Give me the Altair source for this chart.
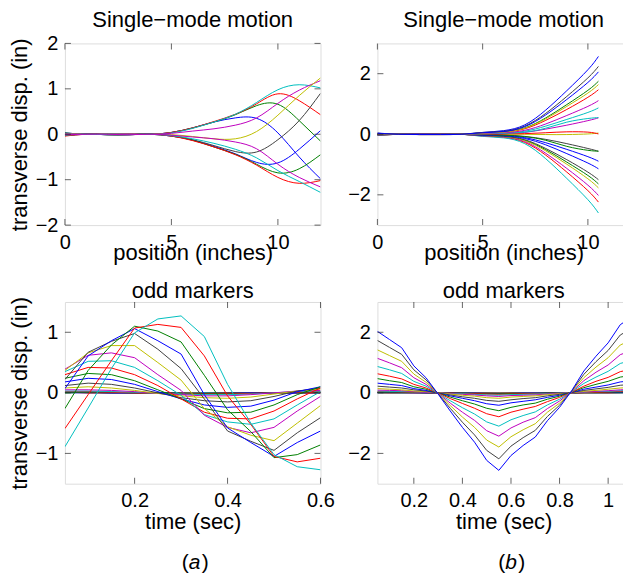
import altair as alt
import pandas as pd

FONT = "Liberation Sans"
COLORS = ["#0000ff", "#008000", "#ff0000", "#00bfbf", "#bf00bf", "#bfbf00", "#404040"]

# ---------- (a) top: Single-mode motion, position (inches) ----------
TL_X = [0, 1, 2, 3, 4, 5, 6, 7, 8, 9, 10, 11, 12]
TL_Y = [
    [0.03, 0, 0.01, 0.01, 0, 0.04, 0.14, 0.27, 0.36, 0.35, 0.03, -0.5, -0.98],
    [0.03, 0, 0.01, 0.01, 0, 0.04, 0.14, 0.27, 0.43, 0.63, 0.66, 0.3, -0.15],
    [0.02, 0, 0.01, 0.01, 0, 0.04, 0.14, 0.28, 0.44, 0.67, 0.89, 0.74, 0.43],
    [0.02, 0, 0.01, 0.01, 0, 0.03, 0.13, 0.27, 0.44, 0.7, 0.98, 1.09, 1.02],
    [0.01, 0, 0, 0.01, 0, 0.02, 0.07, 0.12, 0.2, 0.36, 0.68, 0.97, 1.18],
    [0, 0, 0, 0, 0, -0.01, -0.05, -0.1, -0.1, 0.06, 0.42, 0.85, 1.24],
    [-0.02, 0, -0.01, -0.01, 0, -0.03, -0.12, -0.25, -0.38, -0.39, -0.12, 0.3, 0.9],
    [-0.03, 0, -0.01, -0.01, 0, -0.04, -0.13, -0.27, -0.43, -0.62, -0.63, -0.33, 0.08],
    [-0.03, 0, -0.01, -0.01, 0, -0.04, -0.13, -0.28, -0.44, -0.66, -0.85, -0.76, -0.45],
    [-0.04, 0, -0.01, -0.01, 0, -0.04, -0.14, -0.28, -0.45, -0.68, -0.95, -1.08, -1.02],
    [-0.02, 0, -0.01, -0.01, 0, -0.03, -0.1, -0.2, -0.33, -0.52, -0.8, -1.04, -1.28],
    [-0.01, 0, 0, -0.01, 0, -0.02, -0.06, -0.1, -0.17, -0.32, -0.66, -0.95, -1.16],
]

# ---------- (b) top: Single-mode motion ----------
TR_X = [0, 1, 2, 3, 4, 5, 6, 7, 8, 9, 10, 10.5]
TR_Y = [
    [0.04, 0, -0.01, -0.01, 0, 0.06, 0.12, 0.31, 0.80, 1.44, 2.13, 2.57],
    [0.03, 0, -0.01, -0.01, 0, 0.04, 0.08, 0.21, 0.54, 0.98, 1.45, 1.75],
    [0.02, 0, -0.01, -0.01, 0, 0.04, 0.07, 0.18, 0.46, 0.82, 1.22, 1.47],
    [0.01, 0, 0, 0, 0, 0.02, 0.04, 0.10, 0.27, 0.49, 0.72, 0.87],
    [0.01, 0, 0, 0, 0, 0.01, 0.02, 0.06, 0.17, 0.30, 0.45, 0.54],
    [0, 0, 0, 0, 0, 0, 0, 0, -0.01, -0.01, 0.01, 0.04],
    [-0.01, 0, 0, 0, 0, -0.01, -0.03, -0.07, -0.17, -0.31, -0.47, -0.56],
    [-0.01, 0, 0, 0, 0, -0.02, -0.04, -0.11, -0.28, -0.50, -0.74, -0.89],
    [-0.02, 0, 0.01, 0.01, 0, -0.04, -0.07, -0.20, -0.51, -0.92, -1.36, -1.64],
    [-0.03, 0, 0.01, 0.01, 0, -0.06, -0.10, -0.27, -0.69, -1.25, -1.86, -2.24],
    [-0.04, 0, 0.01, 0.01, 0, -0.07, -0.12, -0.31, -0.81, -1.46, -2.16, -2.60],
    [-0.03, 0, 0.01, 0.01, 0, -0.05, -0.09, -0.24, -0.63, -1.13, -1.68, -2.02],
    [-0.03, 0, 0.01, 0.01, 0, -0.04, -0.08, -0.21, -0.55, -0.99, -1.47, -1.77],
    [-0.02, 0, 0.01, 0.01, 0, -0.04, -0.07, -0.18, -0.47, -0.84, -1.25, -1.50],
    [-0.02, 0, 0.01, 0, 0, -0.03, -0.05, -0.14, -0.35, -0.64, -0.95, -1.14],
    [-0.01, 0, 0, 0, 0, -0.01, -0.03, -0.08, -0.20, -0.40, -0.53, -0.56],
    [0, 0, 0, 0, 0, 0, 0.01, 0.02, 0.05, 0.08, 0.07, 0.01],
    [0.01, 0, 0, 0, 0, 0.01, 0.03, 0.07, 0.20, 0.40, 0.52, 0.55],
    [0.02, 0, 0, 0, 0, 0.03, 0.05, 0.13, 0.34, 0.62, 0.92, 1.11],
    [0.02, 0, -0.01, -0.01, 0, 0.04, 0.07, 0.20, 0.51, 0.92, 1.36, 1.64],
    [0.03, 0, -0.01, -0.01, 0, 0.06, 0.10, 0.27, 0.69, 1.25, 1.86, 2.24],
    [0.03, 0, -0.01, -0.01, 0, 0.05, 0.09, 0.25, 0.64, 1.15, 1.71, 2.06],
]

# ---------- (a) bottom: odd markers, time (sec) ----------
BL_T = [0.05, 0.1, 0.15, 0.2, 0.25, 0.3, 0.35, 0.4, 0.45, 0.5, 0.55, 0.6]
BL_Y = [
    [0.0, 0.0, 0.0, 0.0, 0.0, 0.0, 0.0, 0.0, 0.0, 0.0, 0.0, 0.0],
    [0.0, 0.01, 0.0, 0.0, 0.0, 0.0, 0.0, -0.01, 0.0, 0.0, 0.0, 0.0],
    [0.01, 0.0, 0.0, 0.0, 0.0, 0.0, -0.01, 0.0, 0.0, 0.0, 0.0, 0.0],
    [0.0, 0.01, 0.0, 0.0, 0.0, 0.0, 0.0, -0.01, 0.0, 0.0, 0.0, 0.01],
    [0.01, 0.01, 0.0, 0.0, 0.0, 0.0, -0.01, -0.01, 0.0, 0.0, 0.0, 0.0],
    [0.0, 0.01, 0.01, 0.0, 0.0, 0.0, -0.01, -0.01, 0.0, 0.0, 0.0, 0.01],
    [0.01, 0.0, 0.0, 0.0, 0.0, 0.0, -0.01, 0.0, 0.0, 0.0, 0.0, 0.0],
    [0.01, 0.01, 0.0, 0.0, 0.0, -0.01, -0.01, -0.01, 0.0, 0.0, 0.0, 0.01],
    [0.01, 0.01, 0.01, 0.0, 0.0, -0.01, -0.01, -0.01, -0.01, 0.0, 0.01, 0.01],
    [0.02, 0.02, 0.01, 0.0, -0.01, -0.02, -0.02, -0.02, -0.01, 0.0, 0.01, 0.02],
    [0.03, 0.03, 0.02, 0.01, -0.01, -0.02, -0.03, -0.03, -0.02, 0.0, 0.02, 0.03],
    [0.05, 0.05, 0.04, 0.02, -0.01, -0.03, -0.05, -0.05, -0.03, 0.0, 0.03, 0.04],
    [0.08, 0.10, 0.08, 0.04, -0.01, -0.05, -0.08, -0.09, -0.07, -0.02, 0.03, 0.06],
    [0.12, 0.16, 0.14, 0.08, 0.0, -0.08, -0.13, -0.15, -0.13, -0.06, 0.03, 0.08],
    [0.18, 0.24, 0.22, 0.14, 0.02, -0.10, -0.20, -0.24, -0.22, -0.12, 0.02, 0.10],
    [0.24, 0.32, 0.30, 0.20, 0.05, -0.10, -0.26, -0.33, -0.32, -0.20, -0.03, 0.10],
    [0.30, 0.42, 0.41, 0.30, 0.12, -0.10, -0.32, -0.42, -0.43, -0.30, -0.10, 0.08],
    [0.35, 0.52, 0.53, 0.42, 0.20, -0.04, -0.36, -0.48, -0.52, -0.43, -0.20, 0.02],
    [0.39, 0.62, 0.66, 0.58, 0.30, 0.04, -0.37, -0.57, -0.66, -0.57, -0.30, -0.06],
    [0.37, 0.66, 0.78, 0.78, 0.50, 0.21, -0.26, -0.56, -0.70, -0.79, -0.50, -0.21],
    [0.22, 0.67, 0.85, 0.98, 0.72, 0.40, -0.10, -0.63, -0.80, -0.95, -0.66, -0.41],
    [0.07, 0.61, 0.86, 1.06, 0.86, 0.64, -0.03, -0.58, -0.82, -1.05, -0.82, -0.63],
    [-0.26, 0.37, 0.79, 1.10, 1.02, 0.84, 0.29, -0.28, -0.64, -1.07, -1.02, -0.86],
    [-0.59, -0.03, 0.53, 1.07, 1.13, 1.08, 0.61, -0.05, -0.52, -1.05, -1.14, -1.08],
    [-0.89, -0.25, 0.40, 0.99, 1.22, 1.27, 0.93, 0.14, -0.50, -1.02, -1.22, -1.27],
]

# ---------- (b) bottom: odd markers ----------
BR_T = [0.05, 0.1, 0.15, 0.2, 0.25, 0.3, 0.35, 0.4, 0.45, 0.5, 0.55,
        0.6, 0.65, 0.7, 0.75, 0.8, 0.85, 0.9, 0.95, 1.0, 1.05, 1.1]
BR_Y = [
    [0, 0, 0, 0, 0, 0, 0, 0, 0, 0, 0, 0, 0, 0, 0, 0, 0, 0, 0, 0, 0, 0],
    [0, 0, 0, 0, 0, 0, 0, 0, 0, 0, -0.01, 0, 0, 0, 0, 0, 0, 0, 0, 0, 0, 0.01],
    [0.01, 0, 0, 0, 0, 0, 0, 0, 0, -0.01, -0.01, 0, 0, 0, 0, 0, 0, 0, 0, 0, 0.01, 0.01],
    [0.01, 0.01, 0, 0, 0, 0, 0, 0, -0.01, -0.01, -0.01, -0.01, 0, 0, 0, 0, 0, 0, 0, 0.01, 0.01, 0.01],
    [0.01, 0.01, 0.01, 0, 0, 0, 0, -0.01, -0.01, -0.01, -0.01, -0.01, -0.01, 0, 0, 0, 0, 0, 0.01, 0.01, 0.01, 0.01],
    [0.01, 0.01, 0.01, 0.01, 0, 0, 0, -0.01, -0.01, -0.01, -0.01, -0.01, -0.01, -0.01, 0, 0, 0, 0, 0.01, 0.01, 0.01, 0.01],
    [0.01, 0.01, 0.01, 0.01, 0, 0, 0, -0.01, -0.01, -0.01, -0.02, -0.01, -0.01, -0.01, 0, 0, 0, 0.01, 0.01, 0.01, 0.01, 0.02],
    [0.02, 0.01, 0.01, 0.01, 0, 0, 0, -0.01, -0.01, -0.02, -0.02, -0.02, -0.01, -0.01, -0.01, 0, 0, 0.01, 0.01, 0.01, 0.02, 0.02],
    [0.02, 0.02, 0.02, 0.01, 0.01, 0, -0.01, -0.01, -0.02, -0.03, -0.03, -0.02, -0.02, -0.02, -0.01, -0.01, 0, 0.01, 0.01, 0.02, 0.03, 0.03],
    [0.04, 0.04, 0.03, 0.02, 0.01, 0, -0.01, -0.02, -0.03, -0.04, -0.05, -0.04, -0.03, -0.03, -0.02, -0.01, 0, 0.01, 0.02, 0.03, 0.05, 0.05],
    [0.06, 0.05, 0.04, 0.03, 0.02, 0, -0.02, -0.03, -0.05, -0.07, -0.08, -0.06, -0.05, -0.04, -0.03, -0.01, 0, 0.02, 0.04, 0.05, 0.07, 0.08],
    [0.09, 0.08, 0.07, 0.04, 0.02, 0, -0.03, -0.05, -0.07, -0.10, -0.12, -0.09, -0.08, -0.07, -0.04, -0.02, 0, 0.03, 0.05, 0.07, 0.10, 0.11],
    [0.14, 0.12, 0.10, 0.06, 0.04, 0, -0.04, -0.08, -0.11, -0.16, -0.18, -0.14, -0.12, -0.10, -0.06, -0.03, 0, 0.05, 0.08, 0.12, 0.16, 0.18],
    [0.22, 0.19, 0.16, 0.10, 0.06, 0, -0.07, -0.13, -0.18, -0.25, -0.28, -0.23, -0.19, -0.16, -0.10, -0.05, 0.01, 0.08, 0.13, 0.18, 0.25, 0.28],
    [0.32, 0.28, 0.24, 0.14, 0.08, -0.01, -0.10, -0.18, -0.26, -0.36, -0.41, -0.33, -0.28, -0.23, -0.15, -0.08, 0.01, 0.12, 0.19, 0.26, 0.36, 0.40],
    [0.47, 0.40, 0.34, 0.20, 0.12, -0.01, -0.14, -0.26, -0.37, -0.51, -0.59, -0.48, -0.40, -0.34, -0.21, -0.11, 0.02, 0.17, 0.28, 0.38, 0.52, 0.58],
    [0.63, 0.55, 0.46, 0.28, 0.16, -0.01, -0.19, -0.35, -0.51, -0.69, -0.79, -0.64, -0.54, -0.45, -0.29, -0.15, 0.02, 0.22, 0.38, 0.51, 0.70, 0.78],
    [0.87, 0.76, 0.64, 0.38, 0.22, -0.02, -0.26, -0.49, -0.70, -0.96, -1.10, -0.89, -0.75, -0.63, -0.40, -0.21, 0.03, 0.31, 0.52, 0.71, 0.97, 1.08],
    [1.14, 0.99, 0.83, 0.50, 0.28, -0.02, -0.34, -0.64, -0.91, -1.25, -1.43, -1.16, -0.97, -0.82, -0.52, -0.27, 0.04, 0.40, 0.68, 0.92, 1.26, 1.41],
    [1.42, 1.23, 1.04, 0.62, 0.35, -0.03, -0.42, -0.80, -1.14, -1.56, -1.79, -1.45, -1.22, -1.02, -0.64, -0.34, 0.05, 0.50, 0.85, 1.16, 1.58, 1.76],
    [1.73, 1.50, 1.27, 0.76, 0.43, -0.03, -0.51, -0.97, -1.39, -1.90, -2.18, -1.76, -1.48, -1.24, -0.78, -0.41, 0.06, 0.61, 1.03, 1.40, 1.91, 2.14],
    [2.03, 1.76, 1.49, 0.89, 0.50, -0.04, -0.60, -1.14, -1.63, -2.23, -2.56, -2.07, -1.74, -1.46, -0.92, -0.48, 0.07, 0.72, 1.21, 1.65, 2.25, 2.52],
]

TITLES = ["Single\u2212mode motion", "odd markers"]
XTITLES = ["position (inches)", "time (sec)"]
YTITLE = "transverse disp. (in)"
PANEL_TAGS = ["a", "b"]

H = 182
TITLE_FS, LABEL_FS, TAG_FS = 22, 20, 21


def long_df(xs, ys):
    rows = []
    for i, ser in enumerate(ys):
        for x, y in zip(xs, ser):
            rows.append({"x": x, "y": y, "cid": f"{i:02d}", "col": COLORS[i % 7]})
    return pd.DataFrame(rows)


def panel(xs, ys, w, xdom, ydom, xticks, yticks, title, title_y, xtitle, xtitle_y,
          ytitle, interp, tag, tag_x):
    df = long_df(xs, ys)
    xs_ = alt.Scale(domain=xdom, nice=False, zero=False)
    ys_ = alt.Scale(domain=ydom, nice=False, zero=False)
    xaxis = alt.Axis(values=xticks, format="~r", title=xtitle, grid=False, domain=False,
                     ticks=False, labelPadding=7, labelFont=FONT, labelFontSize=LABEL_FS,
                     labelColor="#000", labelFlush=False, labelOverlap=False,
                     titleFont=FONT, titleFontSize=TITLE_FS, titleFontWeight="normal",
                     titleColor="#000", titleY=xtitle_y, titleBaseline="alphabetic")
    yargs = dict(values=yticks, format="~r", grid=False, domain=False, ticks=False,
                 labelPadding=7, labelFont=FONT, labelFontSize=LABEL_FS, labelColor="#000",
                 labelFlush=False, labelOverlap=False)
    if ytitle:
        yaxis = alt.Axis(title=ytitle, titleFont=FONT, titleFontSize=TITLE_FS,
                         titleFontWeight="normal", titleColor="#000", titleX=-38,
                         titleBaseline="alphabetic", **yargs)
    else:
        yaxis = alt.Axis(title=None, **yargs)
    lines = alt.Chart(df).mark_line(strokeWidth=1, interpolate=interp, clip=True).encode(
        x=alt.X("x:Q", scale=xs_, axis=xaxis),
        y=alt.Y("y:Q", scale=ys_, axis=yaxis),
        color=alt.Color("col:N", scale=None, legend=None),
        detail="cid:N",
    )
    xt = pd.DataFrame({"x": xticks})
    yt = pd.DataFrame({"y": yticks})
    tick_style = dict(size=6, thickness=1, color="#262626")
    layers = [lines]
    for yy in (3, H - 3):
        layers.append(alt.Chart(xt).mark_tick(orient="vertical", **tick_style).encode(
            x=alt.X("x:Q", scale=xs_, axis=xaxis), y=alt.value(yy)))
    for xx in (3, w - 3):
        layers.append(alt.Chart(yt).mark_tick(orient="horizontal", **tick_style).encode(
            y=alt.Y("y:Q", scale=ys_, axis=yaxis), x=alt.value(xx)))
    one = pd.DataFrame({"k": [0]})
    txt = dict(font=FONT, color="#000", baseline="alphabetic")
    # panel title
    layers.append(alt.Chart(one).mark_text(text=title, align="center", fontSize=TITLE_FS,
                                           **txt).encode(
        x=alt.value(w / 2), y=alt.value(title_y)))
    if tag:
        ty = H + 85
        layers.append(alt.Chart(one).mark_text(text="(", align="right", fontSize=TAG_FS,
                                               **txt).encode(
            x=alt.value(tag_x - 6), y=alt.value(ty)))
        layers.append(alt.Chart(one).mark_text(text=tag, align="center", fontSize=TAG_FS,
                                               fontStyle="italic", **txt).encode(
            x=alt.value(tag_x), y=alt.value(ty)))
        layers.append(alt.Chart(one).mark_text(text=")", align="left", fontSize=TAG_FS,
                                               **txt).encode(
            x=alt.value(tag_x + 7), y=alt.value(ty)))
    return alt.layer(*layers).properties(width=w, height=H)


p1 = panel(TL_X, TL_Y, 256, [0, 12], [-2, 2], [0, 5, 10], [-2, -1, 0, 1, 2],
           TITLES[0], -16.5, XTITLES[0], 34, YTITLE, "natural", None, 0)
p2 = panel(TR_X, TR_Y, 253, [0, 12], [-3, 3], [0, 5, 10], [-2, 0, 2],
           TITLES[0], -16.5, XTITLES[0], 34, None, "natural", None, 0)
p3 = panel(BL_T, BL_Y, 256, [0.05, 0.6], [-1.5, 1.5], [0.2, 0.4, 0.6], [-1, 0, 1],
           TITLES[1], -4, XTITLES[1], 45, YTITLE, "linear", PANEL_TAGS[0], 130)
p4 = panel(BR_T, BR_Y, 253, [0.05, 1.09], [-3, 3], [0.2, 0.4, 0.6, 0.8, 1.0], [-2, 0, 2],
           TITLES[1], -4, XTITLES[1], 45, None, "linear", PANEL_TAGS[1], 134)

# The page body is 615px wide; the reference's right-hand panels run to the
# window edge, so the last few pixels are cropped rather than letting the SVG shrink.
chart = alt.concat(p1, p2, p3, p4, columns=2, spacing={"row": 77, "column": 57},
                   bounds="flush").properties(
    padding={"left": 0, "top": 0, "right": -8, "bottom": 0}
).configure_view(stroke="#262626", strokeWidth=1).configure(background="#ffffff")

chart.save("out.html", embed_options={"renderer": "svg", "actions": False})
